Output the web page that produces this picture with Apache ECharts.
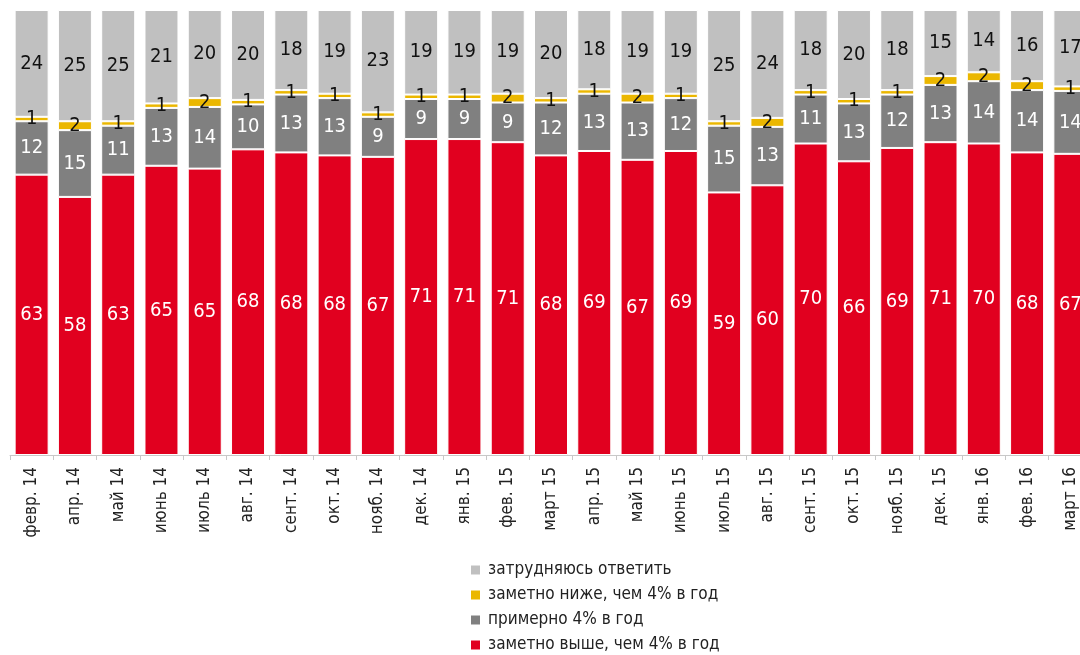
<!DOCTYPE html>
<html>
<head>
<meta charset="utf-8">
<script src="https://cdn.jsdelivr.net/npm/echarts@6/dist/echarts.min.js"></script>
<style>
  html, body { margin: 0; padding: 0; background: #fff; overflow: hidden; }
  /* последний столбик в оригинале обрезан правым краем */
  #chart { width: 1092px; height: 655px; }
</style>
</head>
<body>
<div id="chart"></div>
<script>
// месяцы опроса
var months = ['февр. 14', 'апр. 14', 'май 14', 'июнь 14', 'июль 14', 'авг. 14', 'сент. 14', 'окт. 14',
    'нояб. 14', 'дек. 14', 'янв. 15', 'фев. 15', 'март 15', 'апр. 15', 'май 15', 'июнь 15', 'июль 15',
    'авг. 15', 'сент. 15', 'окт. 15', 'нояб. 15', 'дек. 15', 'янв. 16', 'фев. 16', 'март 16'];

// ответы, %
var higher = [63, 58, 63, 65, 65, 68, 68, 68, 67, 71, 71, 71, 68, 69, 67, 69, 59, 60, 70, 66, 69, 71, 70, 68, 67];
var about4 = [12, 15, 11, 13, 14, 10, 13, 13, 9, 9, 9, 9, 12, 13, 13, 12, 15, 13, 11, 13, 12, 13, 14, 14, 14];
var lower = [1, 2, 1, 1, 2, 1, 1, 1, 1, 1, 1, 2, 1, 1, 2, 1, 1, 2, 1, 1, 1, 2, 2, 2, 1];
var hardToSay = [24, 25, 25, 21, 20, 20, 18, 19, 23, 19, 19, 19, 20, 18, 19, 19, 25, 24, 18, 20, 18, 15, 14, 16, 17];

var names = ['заметно выше, чем 4% в год', 'примерно 4% в год', 'заметно ниже, чем 4% в год', 'затрудняюсь ответить'];
var colors = ['#e1001f', '#808080', '#ebb700', '#c0c0c0'];
var labelColors = ['#fff', '#fff', '#111', '#111'];
var font = "'Liberation Sans Narrow', 'DejaVu Sans Condensed', sans-serif";

// сумма по месяцу (из-за округления не всегда 100) — нормируем, чтобы столбики были одной высоты
var totals = months.map(function (m, i) {
    return higher[i] + about4[i] + lower[i] + hardToSay[i];
});

var chart = echarts.init(document.getElementById('chart'));

var series = [higher, about4, lower, hardToSay].map(function (arr, k) {
    return {
        name: names[k],
        type: 'bar',
        stack: 'all',
        barWidth: 34,
        color: colors[k],
        data: arr.map(function (v, i) {
            return { value: v / totals[i] * 100, raw: v };
        }),
        itemStyle: { borderColor: '#fff', borderWidth: 1 },
        label: {
            show: true,
            position: 'inside',
            color: labelColors[k],
            fontFamily: font,
            fontSize: 20,
            formatter: function (p) { return p.data.raw; }
        }
    };
});

chart.setOption({
    animation: false,
    grid: { left: 10, right: 0, top: 10, bottom: 200 },
    legend: {
        orient: 'vertical',
        left: 469,
        top: 560,
        padding: 0,
        itemWidth: 11,
        itemHeight: 11,
        itemGap: 5,
        icon: 'rect',
        data: ['затрудняюсь ответить', 'заметно ниже, чем 4% в год', 'примерно 4% в год', 'заметно выше, чем 4% в год'],
        textStyle: { fontFamily: font, fontSize: 17, color: '#222', lineHeight: 20, padding: [0, 0, 0, 2] }
    },
    xAxis: {
        type: 'category',
        data: months,
        axisLine: { lineStyle: { color: '#c8c8c8' } },
        axisTick: { show: true, length: 5, lineStyle: { color: '#c8c8c8' } },
        axisLabel: {
            interval: 0,
            rotate: 90,
            margin: 12,
            fontFamily: font,
            fontSize: 17,
            color: '#222'
        }
    },
    yAxis: {
        type: 'value',
        min: 0,
        max: 100,
        show: false,
        splitLine: { show: false }
    },
    series: series
});
</script>
</body>
</html>
